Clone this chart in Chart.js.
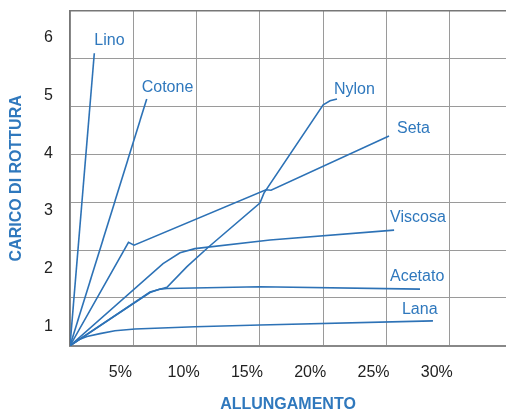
<!DOCTYPE html>
<html>
<head>
<meta charset="utf-8">
<script src="https://cdn.jsdelivr.net/npm/chart.js@4.4.1/dist/chart.umd.min.js"></script>
<style>
html, body { margin: 0; padding: 0; background: #fff; }
#wrap { width: 506px; height: 414px; }
</style>
</head>
<body>
<div id="wrap"><canvas id="chart"></canvas></div>
<script>
// [allungamento %, carico di rottura]
const lino    = [[0, 0.67], [1.92, 5.73]];
const cotone  = [[0, 0.67], [6.06, 4.94]];
const seta    = [[0, 0.67], [4.62, 2.46], [5.06, 2.41], [15.48, 3.37], [15.88, 3.36], [25.2, 4.3]];
const nylon   = [[0, 0.67], [6.32, 1.6], [7.66, 1.68], [9.24, 2.04], [10.9, 2.37], [15.0, 3.14],
                 [15.32, 3.31], [20.0, 4.84], [20.54, 4.91], [21.09, 4.94]];
const viscosa = [[0, 0.67], [7.35, 2.09], [8.69, 2.28], [9.87, 2.35], [15.8, 2.5], [25.6, 2.67]];
const acetato = [[0, 0.67], [6.32, 1.59], [7.11, 1.65], [7.66, 1.66], [15.0, 1.69], [27.65, 1.65]];
const lana    = [[0, 0.67], [0.63, 0.77], [1.34, 0.83], [2.37, 0.88], [3.55, 0.93], [5.13, 0.96],
                 [9.87, 1.0], [15.0, 1.03], [28.67, 1.1]];

const fibre = ['Lino', 'Cotone', 'Seta', 'Nylon', 'Viscosa', 'Acetato', 'Lana'];
const series = [lino, cotone, seta, nylon, viscosa, acetato, lana];
const xTicks = [5, 10, 15, 20, 25, 30];
const yTicks = [1, 2, 3, 4, 5, 6];

// where each name sits, relative to the end of its line (px)
const labelOffset = {
    Lino: [0, -13], Cotone: [-5, -11], Nylon: [-3, -9], Seta: [8, -7],
    Viscosa: [-4, -13], Acetato: [-30, -13], Lana: [-31, -11]
};

const BLUE = '#2f78bd';
const LINE = '#2d72b6';
const FONT = '"Liberation Sans", Arial, Helvetica, sans-serif';

const fibreLabels = {
    id: 'fibreLabels',
    afterDatasetsDraw(chart) {
        const ctx = chart.ctx;
        ctx.save();
        ctx.font = '16px ' + FONT;
        ctx.fillStyle = BLUE;
        ctx.textAlign = 'left';
        ctx.textBaseline = 'middle';
        chart.data.datasets.forEach((ds, i) => {
            const pts = chart.getDatasetMeta(i).data;
            const last = pts[pts.length - 1];
            const off = labelOffset[ds.label];
            ctx.fillText(ds.label, last.x + off[0], last.y + off[1]);
        });
        ctx.restore();
    }
};

const datasets = fibre.map((name, i) => ({
    label: name,
    data: series[i].map(([x, y]) => ({x, y})),
    borderColor: LINE,
    borderWidth: 1.6,
    pointRadius: 0,
    tension: 0,
    fill: false
}));

function noPad(scale) {
    scale.paddingTop = 0;
    scale.paddingBottom = 0;
    scale.paddingLeft = 0;
    scale.paddingRight = 0;
}

new Chart(document.getElementById('chart'), {
    type: 'line',
    data: { datasets },
    plugins: [fibreLabels],
    options: {
        responsive: true,
        maintainAspectRatio: false,
        animation: false,
        layout: { padding: { top: 11, right: 0, left: 0, bottom: 0 } },
        plugins: { legend: { display: false }, tooltip: { enabled: false } },
        scales: {
            x: {
                type: 'linear',
                min: 0,
                max: 34.44,
                afterBuildTicks(scale) {
                    scale.ticks = [0].concat(xTicks).map(v => ({value: v}));
                },
                afterFit(scale) { scale.height = 68.3; noPad(scale); },
                ticks: {
                    includeBounds: false,
                    padding: 17,
                    labelOffset: -13,
                    color: '#222',
                    font: { family: FONT, size: 16 },
                    callback: v => v === 0 ? '' : v + '%'
                },
                grid: { color: '#9a9a9a', lineWidth: 1, drawTicks: false },
                border: { display: true, color: '#888', width: 2 },
                title: {
                    display: true,
                    text: 'ALLUNGAMENTO',
                    color: BLUE,
                    font: { family: FONT, size: 16, weight: 'bold' },
                    padding: { top: 0, bottom: 0 }
                }
            },
            y: {
                type: 'linear',
                position: 'left',
                min: 0.671,
                max: 6.462,
                afterBuildTicks(scale) {
                    scale.ticks = yTicks.map(v => ({value: v}));
                },
                afterFit(scale) { scale.width = 70; noPad(scale); },
                ticks: {
                    includeBounds: false,
                    padding: 17,
                    color: '#222',
                    font: { family: FONT, size: 16 }
                },
                grid: { color: 'rgba(0,0,0,0)', drawTicks: false },
                border: { display: true, color: '#777', width: 1.5 },
                title: {
                    display: true,
                    text: 'CARICO DI ROTTURA',
                    color: BLUE,
                    font: { family: FONT, size: 16, weight: 'bold' },
                    padding: { top: 7, bottom: 0 }
                }
            },
            yg: {
                type: 'linear',
                position: 'left',
                min: 0,
                max: 7,
                afterBuildTicks(scale) {
                    scale.ticks = [0, 1, 2, 3, 4, 5, 6, 7].map(v => ({value: v}));
                },
                afterFit(scale) { scale.width = 0; noPad(scale); },
                ticks: { display: false },
                grid: {
                    drawTicks: false,
                    color: c => c.tick && c.tick.value === 7 ? '#777' : '#9a9a9a',
                    lineWidth: c => c.tick && c.tick.value === 7 ? 1.5 : 1
                },
                border: { display: false }
            }
        }
    }
});
</script>
</body>
</html>
